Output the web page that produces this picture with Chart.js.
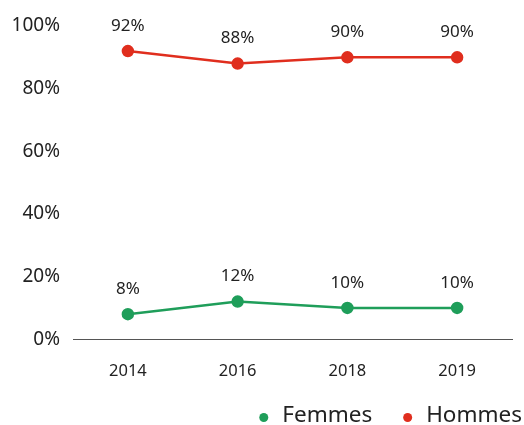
<!DOCTYPE html>
<html>
<head>
<meta charset="utf-8">
<script src="https://cdn.jsdelivr.net/npm/chart.js@4"></script>
<style>
  html, body { margin: 0; padding: 0; background: #fff; }
  #wrap { width: 524px; height: 425px; }
</style>
</head>
<body>
<div id="wrap"><canvas id="chart"></canvas></div>
<script>
// Years and shares (%) by sex
var years = ['2014', '2016', '2018', '2019'];
var femmes = [8, 12, 10, 10];
var hommes = [92, 88, 90, 90];
var yTicks = [0, 20, 40, 60, 80, 100];

var green = 'rgb(31, 158, 90)';
var red = 'rgb(224, 46, 30)';
var FONT = '"Noto Sans", sans-serif';

// write the value above each point
var valueLabels = {
  id: 'valueLabels',
  afterDatasetsDraw: function (chart) {
    var ctx = chart.ctx;
    ctx.save();
    ctx.font = '17px ' + FONT;
    ctx.fillStyle = '#222';
    ctx.textAlign = 'center';
    ctx.textBaseline = 'middle';
    chart.data.datasets.forEach(function (ds, i) {
      chart.getDatasetMeta(i).data.forEach(function (pt, j) {
        ctx.fillText(ds.data[j] + '%', pt.x, pt.y - 25);
      });
    });
    ctx.restore();
  }
};

// legend in the bottom right corner, right-aligned to the canvas edge
var cornerLegend = {
  id: 'cornerLegend',
  afterDraw: function (chart) {
    var ctx = chart.ctx;
    var y = 416, right = 522, dotR = 4.5, dotGap = 14, itemGap = 31;
    ctx.save();
    ctx.font = '22.5px ' + FONT;
    ctx.textBaseline = 'middle';
    ctx.textAlign = 'left';
    var items = chart.data.datasets.map(function (ds) {
      return { text: ds.label, color: ds.borderColor, w: ctx.measureText(ds.label).width };
    });
    var total = 0;
    items.forEach(function (it, k) {
      total += dotR * 2 + dotGap + it.w + (k ? itemGap : 0);
    });
    var x = right - total;
    items.forEach(function (it) {
      ctx.fillStyle = it.color;
      ctx.beginPath();
      ctx.arc(x + dotR, y + 1.5, dotR, 0, Math.PI * 2);
      ctx.fill();
      x += dotR * 2 + dotGap;
      ctx.fillStyle = '#222';
      ctx.fillText(it.text, x, y);
      x += it.w + itemGap;
    });
    ctx.restore();
  }
};

new Chart(document.getElementById('chart'), {
  type: 'line',
  data: {
    labels: years,
    datasets: [
      {
        label: 'Femmes',
        data: femmes,
        borderColor: green,
        backgroundColor: green,
        borderWidth: 2.5,
        pointRadius: 5,
        pointHoverRadius: 5,
        tension: 0
      },
      {
        label: 'Hommes',
        data: hommes,
        borderColor: red,
        backgroundColor: red,
        borderWidth: 2.5,
        pointRadius: 5,
        pointHoverRadius: 5,
        tension: 0
      }
    ]
  },
  options: {
    responsive: true,
    maintainAspectRatio: false,
    animation: false,
    layout: { padding: { top: 26, right: 12, left: 0, bottom: 22 } },
    scales: {
      x: {
        offset: true,
        grid: { display: false, drawTicks: false },
        border: { display: true, color: '#555', width: 1 },
        ticks: {
          padding: 22,
          color: '#222',
          font: { family: FONT, size: 16.5 }
        }
      },
      y: {
        min: 0,
        max: 100,
        afterBuildTicks: function (axis) {
          axis.ticks = yTicks.map(function (v) { return { value: v }; });
        },
        afterFit: function (axis) { axis.width = 73; },
        grid: { display: false, drawTicks: false },
        border: { display: false },
        ticks: {
          padding: 13,
          color: '#222',
          font: { family: FONT, size: 19 },
          callback: function (v) { return v + '%'; }
        }
      }
    },
    plugins: {
      tooltip: { enabled: false },
      legend: { display: false }
    }
  },
  plugins: [valueLabels, cornerLegend]
});
</script>
</body>
</html>
